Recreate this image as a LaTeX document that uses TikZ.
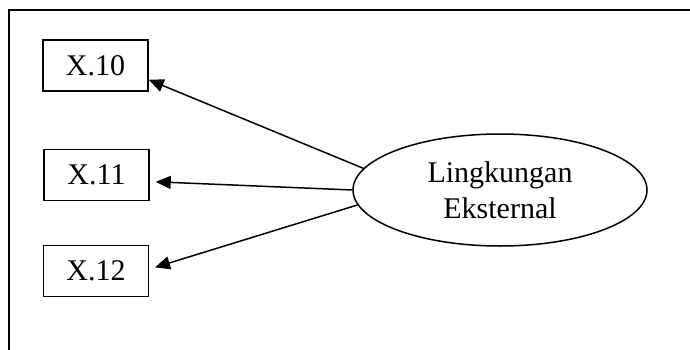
\documentclass[tikz,border=0pt]{standalone}
\usepackage{fontspec}
\setmainfont{Liberation Serif}
\usetikzlibrary{arrows.meta,shapes.geometric}
\begin{document}
\begin{tikzpicture}[x=1pt,y=-1pt,
  frame/.style={line width=2pt},
  itembox/.style={draw,line width=1.5pt,minimum width=105pt,minimum height=51pt,inner sep=0pt,
    font=\fontsize{30}{35}\selectfont},
  factor/.style={draw,ellipse,line width=1.5pt,minimum width=294pt,minimum height=112pt,inner sep=0pt,
    align=center,font=\fontsize{30}{36}\selectfont},
  link/.style={line width=1.5pt,-{Triangle[length=15pt,width=13pt]}}]
\useasboundingbox (0,0) rectangle (690,350);
\clip (0,0) rectangle (690,350);
% outer frame, running past the right and bottom edges
\draw[frame] (9,10) rectangle (720,380);
% indicator boxes
\node[itembox] (x10) at (95.5,65.5) {X.10};
\node[itembox] (x11) at (96.5,175) {X.11};
\node[itembox] (x12) at (96,271) {X.12};
% latent variable
\node[factor] (lk) at (500,190) {Lingkungan\\Eksternal};
% loadings
\draw[link] (lk.171.3) -- (x10.-15.4);
\draw[link,shorten >=6pt] (lk.180.8) -- (x11.-7.7);
\draw[link,shorten >=6pt] (lk.186.5) -- (x12.2.75);
\end{tikzpicture}
\end{document}
